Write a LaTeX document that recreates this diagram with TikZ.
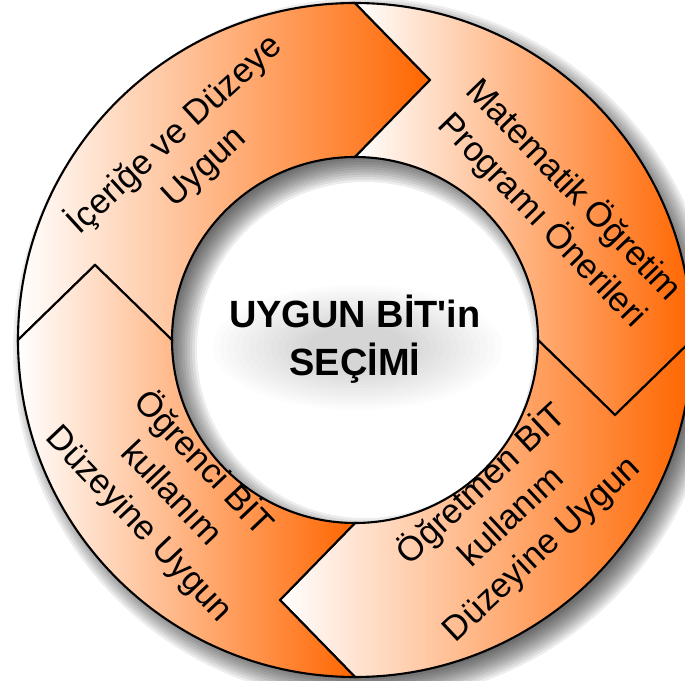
\documentclass[tikz,border=0pt]{standalone}
\usepackage{fontspec}
\setmainfont{Liberation Sans}
\usetikzlibrary{calc}
\definecolor{bitorange}{RGB}{255,102,0}

\begin{document}
\begin{tikzpicture}[
  seg/.style={draw, line width=1.2pt, line join=miter, left color=white, right color=bitorange},
  lbl/.style={font=\fontsize{19.7}{25}\selectfont, align=center},
  title/.style={font=\fontsize{21.6}{27.3}\selectfont\bfseries, align=center}]
  \def\Rout{6.74} \def\Rin{3.66} \def\Rmid{5.2} \def\Tip{1.5}
  \useasboundingbox (-7.1,-6.82) rectangle (6.6,6.8);
  \fill[white] (-7.1,-6.82) rectangle (6.6,6.8);
  % Halkanın gölgesi
  \foreach \e in {-0.2,-0.15,...,0.35}
    \fill[black, opacity=0.07, even odd rule] (0.2,-0.2) circle ({\Rout+\e}) circle ({\Rin-\e});
  % Başlık gölgesi
  \foreach \s in {1,0.95,...,0.3}
    \fill[black, opacity=0.012] (0.05,-0.15) ellipse ({2.9*\s} and {1.25*\s});
  % Halka parçaları (saat yönünde)
  \foreach \sa in {180,90,0,-90}{
    \pgfmathsetmacro\ea{\sa-90}
    \draw[seg] (\sa:\Rout) arc[start angle=\sa, end angle=\ea, radius=\Rout]
      -- ($(\ea:\Rmid)+(\ea-90:\Tip)$) -- (\ea:\Rin)
      arc[start angle=\ea, end angle=\sa, radius=\Rin]
      -- ($(\sa:\Rmid)+(\sa-90:\Tip)$) -- cycle;
  }
  % Etiketler
  \node[title] (secim) at (0,0.02) {UYGUN BİT\textquotesingle in\\SEÇİMİ};
  \node[lbl, rotate=42.5] (icerik) at (-3.33,3.80) {İçeriğe ve Düzeye\\Uygun};
  \node[lbl, rotate=-46] (mat) at (4.06,2.70) {Matematik Öğretim\\Programı Önerileri};
  \node[lbl, rotate=43] (ogretmen) at (3.12,-3.52) {Öğretmen BİT\\kullanım\\Düzeyine Uygun};
  \node[lbl, rotate=-46.5] (ogrenci) at (-3.66,-3.06) {Öğrenci BİT\\kullanım\\Düzeyine Uygun};
\end{tikzpicture}
\end{document}
